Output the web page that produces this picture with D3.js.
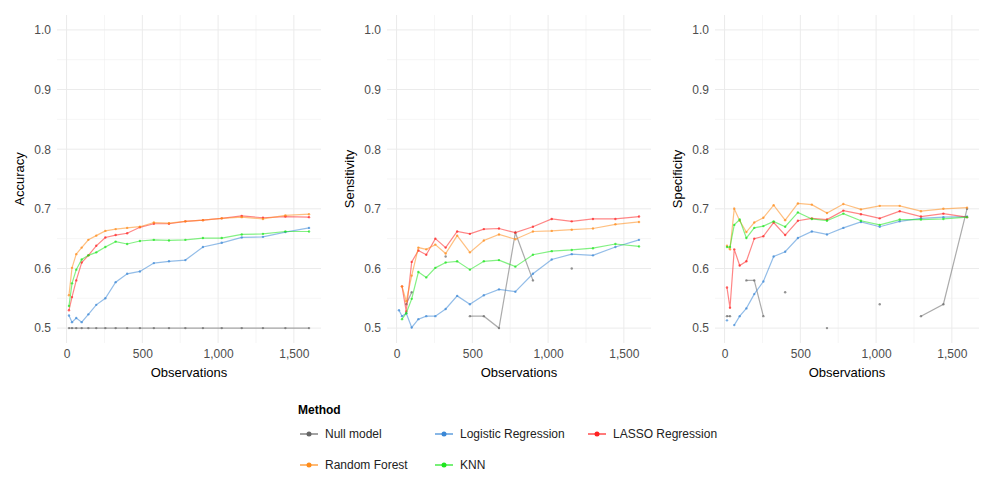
<!DOCTYPE html>
<html><head><meta charset="utf-8">
<script src="https://cdn.jsdelivr.net/npm/d3@7"></script>
<style>body{margin:0;background:#fff;font-family:"Liberation Sans",Arial,sans-serif}</style>
</head><body><svg id="c" width="1000" height="500"></svg>
<script>
const obs = [16,36,64,100,144,196,256,324,400,484,576,676,784,900,1024,1156,1296,1444,1600];
const methods = ["Null model","Logistic Regression","LASSO Regression","Random Forest","KNN"];
const colors = ["#666666","#3a87d6","#ff2222","#ff8c1a","#1ee61e"];
const panels = ["Accuracy","Sensitivity","Specificity"];
const N = null;
const accuracy = [
  [.5,.5,.5,.5,.5,.5,.5,.5,.5,.5,.5,.5,.5,.5,.5,.5,.5,.5,.5],
  [.521,.510,.517,.510,.523,.539,.550,.577,.591,.595,.609,.612,.614,.636,.643,.652,.653,.661,.668],
  [.530,.552,.580,.610,.622,.638,.652,.656,.659,.669,.675,.675,.679,.681,.684,.688,.685,.687,.686],
  [.555,.601,.624,.635,.648,.655,.663,.666,.668,.670,.677,.676,.679,.681,.684,.686,.683,.689,.691],
  [.537,.575,.598,.615,.622,.627,.636,.645,.641,.646,.648,.647,.648,.651,.651,.657,.658,.662,.662]
];
const sensitivity = [
  [N,N,.54,.56,N,N,N,.62,N,.52,.52,.50,.66,.58,N,.60,N,N,N],
  [.530,.520,.525,.501,.515,.520,.520,.532,.554,.540,.555,.565,.561,.591,.615,.624,.622,.636,.648],
  [N,.570,.528,.611,.630,.623,.650,.635,.662,.658,.666,.667,.660,.670,.683,.679,.683,.683,.687],
  [N,.570,.545,.588,.635,.632,.640,.625,.655,.627,.647,.657,.649,.662,.663,.665,.667,.674,.678],
  [N,.515,.525,.549,.594,.585,.601,.610,.612,.598,.612,.614,.603,.623,.629,.631,.634,.641,.637]
];
const specificity = [
  [.52,.52,N,N,.58,.58,.52,N,.56,N,N,.50,N,N,.54,N,.52,.54,.70],
  [.513,N,.505,.520,.533,.557,.578,.620,.628,.651,.662,.657,.668,.678,.670,.679,.684,.686,.687],
  [.568,.534,.632,.605,.612,.650,.654,.677,.656,.680,.684,.682,.697,.691,.684,.696,.687,.692,.686],
  [.638,.632,.700,.680,.661,.677,.685,.706,.681,.709,.707,.693,.708,.699,.705,.705,.696,.700,.702],
  [.636,.636,.673,.682,.651,.668,.671,.679,.670,.694,.683,.680,.692,.680,.673,.682,.682,.683,.686]
];
const panelData = [accuracy, sensitivity, specificity];
const lefts = [57,387,715], pw = 264, pTop = 15, pBottom = 343;

const svg = d3.select("#c");
const y = d3.scaleLinear().domain([0.475,1.025]).range([pBottom, pTop]);

panels.forEach((name, pi) => {
  const x = d3.scaleLinear().domain([-63,1679]).range([lefts[pi], lefts[pi]+pw]);
  const g = svg.append("g");
  // grid
  g.selectAll(".gy").data(d3.range(0.5,1.01,0.05)).join("line")
    .attr("x1", lefts[pi]).attr("x2", lefts[pi]+pw)
    .attr("y1", d => y(d)).attr("y2", d => y(d))
    .attr("stroke", "#ebebeb").attr("stroke-width", (d,i) => i%2 ? 0.5 : 1);
  g.selectAll(".gx").data(d3.range(0,1700,250)).join("line")
    .attr("y1", pTop).attr("y2", pBottom)
    .attr("x1", d => x(d)).attr("x2", d => x(d))
    .attr("stroke", "#ebebeb").attr("stroke-width", (d,i) => i%2 ? 0.5 : 1);
  const yAx = g.append("g").attr("transform", `translate(${lefts[pi]},0)`)
    .call(d3.axisLeft(y).tickValues([0.5,0.6,0.7,0.8,0.9,1.0]).tickFormat(d3.format(".1f")).tickSize(0).tickPadding(6));
  const xAx = g.append("g").attr("transform", `translate(0,${pBottom})`)
    .call(d3.axisBottom(x).tickValues([0,500,1000,1500]).tickSize(0).tickPadding(6));
  [yAx, xAx].forEach(a => { a.select(".domain").remove();
    a.selectAll("text").attr("fill", "#4d4d4d").style("font-size", "12px").style("font-family", "Liberation Sans, Arial"); });
  g.append("text").attr("x", lefts[pi]+pw/2).attr("y", 377).attr("text-anchor", "middle")
    .style("font-size", "13px").text("Observations");
  g.append("text").attr("transform", `translate(${lefts[pi]-33},${(pTop+pBottom)/2}) rotate(-90)`)
    .attr("text-anchor", "middle").style("font-size", "13px").text(name);

  const line = d3.line().defined(d => d[1] !== null).x(d => x(d[0])).y(d => y(d[1]));
  panelData[pi].forEach((vals, mi) => {
    const pts = obs.map((o, i) => [o, vals[i]]);
    g.append("path").datum(pts).attr("d", line).attr("fill", "none")
      .attr("stroke", colors[mi]).attr("stroke-opacity", 0.55).attr("stroke-width", 1.2);
    g.selectAll(null).data(pts.filter(d => d[1] !== null)).join("circle")
      .attr("cx", d => x(d[0])).attr("cy", d => y(d[1])).attr("r", 1.2)
      .attr("fill", colors[mi]).attr("fill-opacity", 0.7);
  });
});

// legend
const lg = svg.append("g");
lg.append("text").attr("x", 298).attr("y", 414).style("font-size", "12px").style("font-weight", "bold").text("Method");
const pos = [[300,434],[435,434],[588,434],[300,465],[435,465]];
methods.forEach((m, i) => {
  const [lx, ly] = pos[i];
  lg.append("line").attr("x1", lx).attr("x2", lx+18).attr("y1", ly).attr("y2", ly)
    .attr("stroke", colors[i]).attr("stroke-width", 1.2);
  lg.append("circle").attr("cx", lx+9).attr("cy", ly).attr("r", 2.5).attr("fill", colors[i]);
  lg.append("text").attr("x", lx+25).attr("y", ly+4).style("font-size", "12px").attr("fill", "#222").text(m);
});
</script></body></html>
